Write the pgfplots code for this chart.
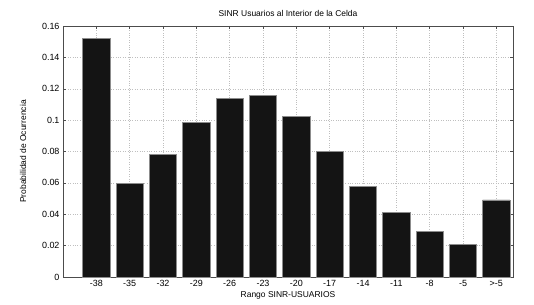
\documentclass[border=0pt]{standalone}
\usepackage{fontspec}
\setmainfont{Liberation Sans}
\usepackage{pgfplots}
\pgfplotsset{compat=1.18}
\begin{document}
\begin{tikzpicture}[x=1bp,y=1bp]
\path[use as bounding box] (0,0) rectangle (534,304);
\begin{axis}[
  at={(63bp,27bp)}, anchor=south west,
  scale only axis, width=450bp, height=251bp,
  xmin=0, xmax=13.5, ymin=0, ymax=0.16,
  xtick={1,...,13},
  xticklabels={-38,-35,-32,-29,-26,-23,-20,-17,-14,-11,-8,-5,>-5},
  ytick={0,0.02,0.04,0.06,0.08,0.1,0.12,0.14,0.16},
  yticklabels={0,0.02,0.04,0.06,0.08,0.1,0.12,0.14,0.16},
  tick align=inside, major tick length=3bp,
  tick style={black!70, thin},
  grid=major, major grid style={dotted, black!25, thin},
  axis line style={black!70, thin},
  ticklabel style={font=\fontsize{9}{10}\selectfont},
  xticklabel style={yshift=0bp},
  title={SINR Usuarios al Interior de la Celda},
  title style={font=\fontsize{8.5}{10}\selectfont, yshift=0bp},
  xlabel={Rango SINR-USUARIOS},
  ylabel={Probabilidad de Ocurrencia},
  label style={font=\fontsize{8.5}{10}\selectfont},
  xlabel style={yshift=2bp},
  ylabel style={yshift=9bp},
]
\addplot[ybar, bar width=27.3bp, fill=black!92, draw=black!45, line width=0.6bp] coordinates {
(1,0.1521) (2,0.0595) (3,0.0784) (4,0.0988) (5,0.1139) (6,0.1160) (7,0.1025)
(8,0.0800) (9,0.0577) (10,0.0410) (11,0.0293) (12,0.0208) (13,0.0492)
};
\end{axis}
\end{tikzpicture}
\end{document}
